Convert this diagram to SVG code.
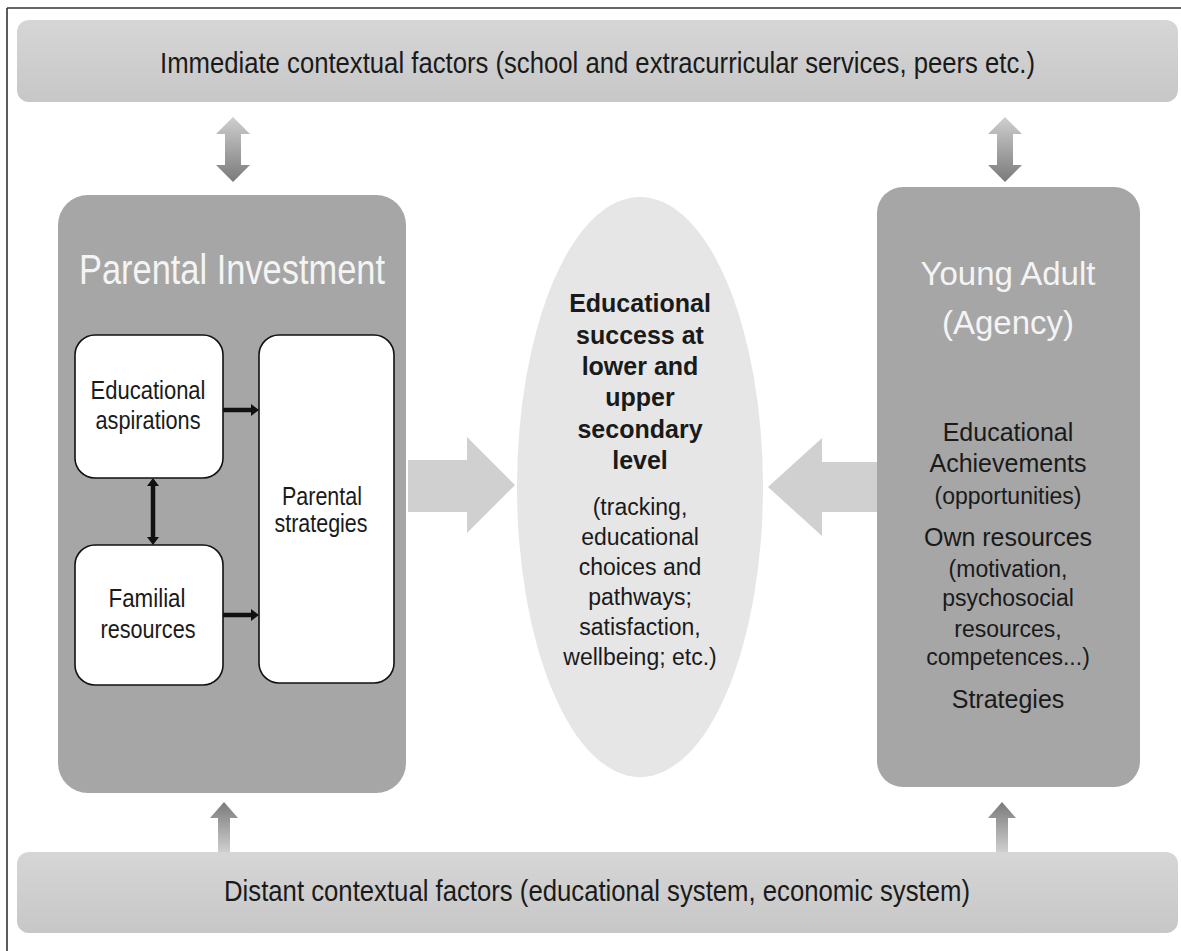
<svg xmlns="http://www.w3.org/2000/svg" width="1181" height="951" viewBox="0 0 1181 951">
  <defs>
    <linearGradient id="barGrad" x1="0" y1="0" x2="0" y2="1">
      <stop offset="0" stop-color="#d6d6d6"/>
      <stop offset="1" stop-color="#c7c7c7"/>
    </linearGradient>
    <linearGradient id="downGrad" x1="0" y1="0" x2="0" y2="1">
      <stop offset="0" stop-color="#cfcfcf"/>
      <stop offset="1" stop-color="#7a7a7a"/>
    </linearGradient>
    <linearGradient id="upGrad" x1="0" y1="1" x2="0" y2="0">
      <stop offset="0" stop-color="#cfcfcf"/>
      <stop offset="1" stop-color="#7a7a7a"/>
    </linearGradient>
    <style>
      .bar { fill: url(#barGrad); }
      .panel { fill: #a6a6a6; }
      .inner { fill: #ffffff; stroke: #111111; stroke-width: 1.6; }
      .narrow { font-family: "Liberation Sans Narrow", "Liberation Sans", Arial, sans-serif; fill: #1a1a1a; text-anchor: middle; }
      .sans { font-family: "Liberation Sans", Arial, sans-serif; fill: #1a1a1a; text-anchor: middle; }
      .title { fill: #f4f4f4; }
      .bold { font-weight: bold; }
      .big { fill: #d0d0d0; }
      .blk { stroke: #111111; stroke-width: 4.5; fill: none; }
      .head { fill: #111111; }
    </style>
  </defs>

  <rect width="1181" height="951" fill="#ffffff"/>
  <g id="frame" stroke="#333333" stroke-width="1.6" fill="none">
    <line x1="7" y1="8" x2="1181" y2="8"/>
    <line x1="7" y1="8" x2="7" y2="951"/>
  </g>

  <g id="immediate-factors">
    <rect class="bar" x="17" y="20" width="1161" height="82" rx="12"/>
    <text class="narrow" x="597.5" y="73" font-size="29" textLength="875" lengthAdjust="spacingAndGlyphs">Immediate contextual factors (school and extracurricular services, peers etc.)</text>
  </g>

  <g id="distant-factors">
    <rect class="bar" x="17" y="852" width="1161" height="81" rx="12"/>
    <text class="narrow" x="597" y="901" font-size="29" textLength="746" lengthAdjust="spacingAndGlyphs">Distant contextual factors (educational system, economic system)</text>
  </g>

  <g id="parental-investment">
    <rect class="panel" x="58" y="195" width="348" height="598" rx="30"/>
    <text class="narrow title" x="232" y="284" font-size="42" textLength="306" lengthAdjust="spacingAndGlyphs">Parental Investment</text>
  </g>

  <g id="educational-aspirations">
    <rect class="inner" x="75" y="335" width="148" height="143" rx="20"/>
    <text class="narrow" x="148" y="399" font-size="26" textLength="115" lengthAdjust="spacingAndGlyphs">Educational</text>
    <text class="narrow" x="148" y="429" font-size="26" textLength="105" lengthAdjust="spacingAndGlyphs">aspirations</text>
  </g>

  <g id="familial-resources">
    <rect class="inner" x="75" y="545" width="148" height="140" rx="20"/>
    <text class="narrow" x="147" y="607" font-size="26" textLength="77" lengthAdjust="spacingAndGlyphs">Familial</text>
    <text class="narrow" x="148" y="638" font-size="26" textLength="95" lengthAdjust="spacingAndGlyphs">resources</text>
  </g>

  <g id="parental-strategies">
    <rect class="inner" x="259" y="335" width="135" height="348" rx="20"/>
    <text class="narrow" x="322" y="505" font-size="25" textLength="80" lengthAdjust="spacingAndGlyphs">Parental</text>
    <text class="narrow" x="321" y="532" font-size="25" textLength="93" lengthAdjust="spacingAndGlyphs">strategies</text>
  </g>

  <g id="educational-success">
    <ellipse cx="640" cy="487" rx="123" ry="290" fill="#e6e6e6"/>
    <text class="sans bold" x="640" y="312" font-size="25">Educational</text>
    <text class="sans bold" x="640" y="343.5" font-size="25">success at</text>
    <text class="sans bold" x="640" y="375" font-size="25">lower and</text>
    <text class="sans bold" x="640" y="406" font-size="25">upper</text>
    <text class="sans bold" x="640" y="438" font-size="25">secondary</text>
    <text class="sans bold" x="640" y="469" font-size="25">level</text>
    <text class="sans" x="640" y="515" font-size="23">(tracking,</text>
    <text class="sans" x="640" y="545" font-size="23">educational</text>
    <text class="sans" x="640" y="575" font-size="23">choices and</text>
    <text class="sans" x="640" y="605" font-size="23">pathways;</text>
    <text class="sans" x="640" y="635" font-size="23">satisfaction,</text>
    <text class="sans" x="640" y="665" font-size="23">wellbeing; etc.)</text>
  </g>

  <g id="young-adult">
    <rect class="panel" x="877" y="187" width="263" height="600" rx="26"/>
    <text class="sans title" x="1008" y="285" font-size="33">Young Adult</text>
    <text class="sans title" x="1008" y="334" font-size="33">(Agency)</text>
    <text class="sans" x="1008" y="441" font-size="25">Educational</text>
    <text class="sans" x="1008" y="472" font-size="25">Achievements</text>
    <text class="sans" x="1008" y="504" font-size="23">(opportunities)</text>
    <text class="sans" x="1008" y="546" font-size="25">Own resources</text>
    <text class="sans" x="1008" y="577" font-size="23">(motivation,</text>
    <text class="sans" x="1008" y="606" font-size="23">psychosocial</text>
    <text class="sans" x="1008" y="637" font-size="23">resources,</text>
    <text class="sans" x="1008" y="665" font-size="23">competences...)</text>
    <text class="sans" x="1008" y="708" font-size="25">Strategies</text>
  </g>

  <g id="connectors">
    <polygon fill="url(#downGrad)" points="233,117 250,134 241,134 241,165 250,165 233,182 216,165 225,165 225,134 216,134"/>
    <polygon fill="url(#downGrad)" points="1005,117 1022,134 1013,134 1013,165 1022,165 1005,182 988,165 997,165 997,134 988,134"/>
    <polygon fill="url(#upGrad)" points="224,802 238,818 230,818 230,852 218,852 218,818 210,818"/>
    <polygon fill="url(#upGrad)" points="1002,802 1016,818 1008,818 1008,852 996,852 996,818 988,818"/>
    <polygon class="big" points="408,460 467,460 467,437 515,485 467,533 467,512 408,512"/>
    <polygon class="big" points="877,462 822,462 822,438 768,487 822,536 822,512 877,512"/>
    <line class="blk" x1="223" y1="410" x2="253" y2="410"/>
    <polygon class="head" points="251,404 259,410 251,416"/>
    <line class="blk" x1="223" y1="615" x2="253" y2="615"/>
    <polygon class="head" points="251,609 259,615 251,621"/>
    <line class="blk" x1="153" y1="484" x2="153" y2="539"/>
    <polygon class="head" points="147,486 153,478 159,486"/>
    <polygon class="head" points="147,537 153,545 159,537"/>
  </g>
</svg>
